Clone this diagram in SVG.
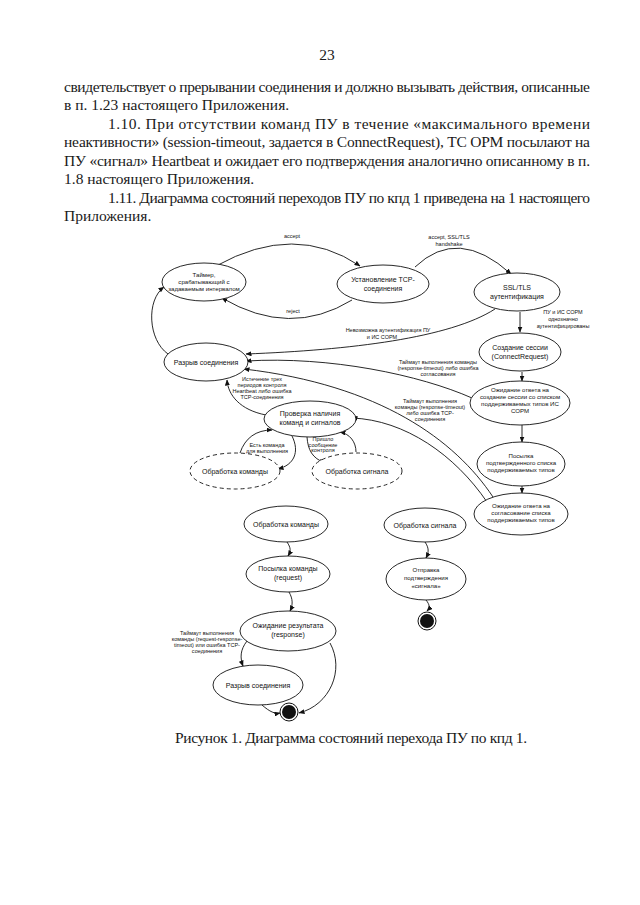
<svg xmlns="http://www.w3.org/2000/svg" width="640" height="905" viewBox="0 0 640 905">
<style>
.pt{font-family:"Liberation Serif","Times New Roman",serif;font-size:15.5px;fill:#1a1a1a}
.nt{font-family:"Liberation Sans",Arial,sans-serif;font-size:7px;fill:#111;text-anchor:middle}
.mt{font-family:"Liberation Sans",Arial,sans-serif;font-size:6.1px;fill:#111;text-anchor:middle}
.lt{font-family:"Liberation Sans",Arial,sans-serif;font-size:5.5px;fill:#111;text-anchor:middle}
.n{fill:#fff;stroke:#111;stroke-width:0.9}
.d{fill:#fff;stroke:#111;stroke-width:0.9;stroke-dasharray:4 3}
.c{fill:none;stroke:#111;stroke-width:0.9;marker-end:url(#ah)}
</style>
<defs>
<marker id="ah" markerWidth="6" markerHeight="5" refX="5.5" refY="2.5" orient="auto" markerUnits="userSpaceOnUse">
<path d="M0,0 L6,2.5 L0,5 z" fill="#111"/>
</marker>
</defs>
<rect width="640" height="905" fill="#fff"/>
<g id="page-text">
<text class="pt" x="327" y="60" text-anchor="middle">23</text>
<text class="pt" x="64" y="92" textLength="526" lengthAdjust="spacing">свидетельствует о прерывании соединения и должно вызывать действия, описанные</text>
<text class="pt" x="64" y="110">в п. 1.23 настоящего Приложения.</text>
<text class="pt" x="108" y="129" textLength="482" lengthAdjust="spacing">1.10. При отсутствии команд ПУ в течение «максимального времени</text>
<text class="pt" x="64" y="147" textLength="526" lengthAdjust="spacing">неактивности» (session-timeout, задается в ConnectRequest), ТС ОРМ посылают на</text>
<text class="pt" x="64" y="166" textLength="526" lengthAdjust="spacing">ПУ «сигнал» Heartbeat и ожидает его подтверждения аналогично описанному в п.</text>
<text class="pt" x="64" y="184">1.8 настоящего Приложения.</text>
<text class="pt" x="108" y="203" textLength="482" lengthAdjust="spacing">1.11.  Диаграмма состояний переходов ПУ по кпд 1 приведена на 1 настоящего</text>
<text class="pt" x="64" y="221">Приложения.</text>
<text class="pt" x="175" y="743" textLength="352" lengthAdjust="spacing">Рисунок 1. Диаграмма состояний перехода ПУ по кпд 1.</text>
</g>
<g id="connectors">
<path class="c" d="M 216 266 Q 295 222 360 266"/>
<text class="lt" x="292" y="238">accept</text>
<path class="c" d="M 352 300 Q 290 338 222 298"/>
<text class="lt" x="293" y="313">reject</text>
<path class="c" d="M 415 267 Q 458 226 511 274"/>
<text class="lt" x="449" y="239">accept, SSL/TLS</text>
<text class="lt" x="449" y="245.5">handshake</text>
<path class="c" d="M 495 309 C 450 338, 350 350, 246 354"/>
<text class="lt" x="388" y="332">Невозможна аутентификация ПУ</text>
<text class="lt" x="382" y="339">и ИС СОРМ</text>
<path class="c" d="M 520 312 L 520 332"/>
<text class="lt" x="563" y="314">ПУ и ИС СОРМ</text>
<text class="lt" x="563" y="321">однозначно</text>
<text class="lt" x="563" y="328">аутентифицированы</text>
<path class="c" d="M 522 372 L 522 381"/>
<path class="c" d="M 472 398 C 420 375, 330 356, 246 361"/>
<text class="lt" x="438" y="364">Таймаут выполнения команды</text>
<text class="lt" x="438" y="370">(response-timeout) либо ошибка</text>
<text class="lt" x="438" y="376">согласования</text>
<path class="c" d="M 522 425 L 522 442"/>
<path class="c" d="M 522 486 L 522 493"/>
<path class="c" d="M 493 497 C 455 440, 380 385, 244 369"/>
<path class="c" d="M 487 502 C 455 455, 405 420, 352 418"/>
<text class="lt" x="430" y="403">Таймаут выполнения</text>
<text class="lt" x="430" y="409">команды (response-timeout)</text>
<text class="lt" x="430" y="415">либо ошибка TCP-</text>
<text class="lt" x="430" y="421">соединения</text>
<path class="c" d="M 266 415 C 240 410, 228 395, 227 380"/>
<text class="lt" x="262" y="381">Истечение трех</text>
<text class="lt" x="262" y="387">периодов контроля</text>
<text class="lt" x="262" y="393">Heartbeat либо ошибка</text>
<text class="lt" x="262" y="399">TCP-соединения</text>
<path class="c" d="M 168 354 C 148 340, 146 300, 164 287"/>
<path class="c" d="M 240 453 C 245 438, 256 430, 272 430"/>
<path class="c" d="M 292 436 C 300 452, 294 465, 278 469"/>
<text class="lt" x="267" y="447">Есть команда</text>
<text class="lt" x="267" y="452.5">для выполнения</text>
<path class="c" d="M 307 437 C 308 450, 312 458, 325 463"/>
<path class="c" d="M 356 452 C 356 442, 350 434, 340 432"/>
<text class="lt" x="323" y="441">Пришло</text>
<text class="lt" x="323" y="446.5">сообщение</text>
<text class="lt" x="323" y="452">контроля</text>
<path class="c" d="M 287 542 C 291 548, 291 551, 288 556"/>
<path class="c" d="M 289 592 C 293 599, 293 605, 290 611"/>
<path class="c" d="M 247 641 C 240 650, 240 658, 243 666"/>
<text class="lt" x="207" y="635">Таймаут выполнения</text>
<text class="lt" x="207" y="641">команды (request-response-</text>
<text class="lt" x="207" y="647">timeout) или ошибка TCP-</text>
<text class="lt" x="207" y="653">соединения</text>
<path class="c" d="M 330 643 C 345 670, 330 705, 299 713"/>
<path class="c" d="M 262 705 C 270 712, 275 714, 280 713"/>
<path class="c" d="M 425 542 C 429 548, 429 552, 426 558"/>
<path class="c" d="M 426 600 C 430 605, 430 608, 427 611"/>
</g>
<g id="n-timer"><ellipse class="n" cx="204" cy="282" rx="42" ry="19"/>
<text class="mt" x="204" y="277">Таймер,</text><text class="mt" x="204" y="284">срабатывающий с</text><text class="mt" x="204" y="291">задаваемым интервалом</text></g>
<g id="n-tcp"><ellipse class="n" cx="383" cy="284" rx="46" ry="19"/>
<text class="nt" x="383" y="282">Установление TCP-</text><text class="nt" x="383" y="291">соединения</text></g>
<g id="n-ssl"><ellipse class="n" cx="517" cy="292" rx="43" ry="19"/>
<text class="nt" x="517" y="290">SSL/TLS</text><text class="nt" x="517" y="299">аутентификация</text></g>
<g id="n-session"><ellipse class="n" cx="520" cy="352" rx="41" ry="19"/>
<text class="nt" x="520" y="350">Создание сессии</text><text class="nt" x="520" y="359">(ConnectRequest)</text></g>
<g id="n-wait1"><ellipse class="n" cx="520" cy="403" rx="50" ry="22"/>
<text class="mt" x="520" y="392">Ожидание ответа на</text><text class="mt" x="520" y="399">создание сессии со списком</text><text class="mt" x="520" y="406">поддерживаемых типов ИС</text><text class="mt" x="520" y="413">СОРМ</text></g>
<g id="n-confirm"><ellipse class="n" cx="521" cy="464" rx="44" ry="22"/>
<text class="mt" x="521" y="458">Посылка</text><text class="mt" x="521" y="465">подтвержденного списка</text><text class="mt" x="521" y="472">поддерживаемых типов</text></g>
<g id="n-wait2"><ellipse class="n" cx="521" cy="514" rx="47" ry="21"/>
<text class="mt" x="521" y="508">Ожидание ответа на</text><text class="mt" x="521" y="515">согласование списка</text><text class="mt" x="521" y="522">поддерживаемых типов</text></g>
<g id="n-break"><ellipse class="n" cx="206" cy="362" rx="42" ry="19"/>
<text class="nt" x="206" y="364.5">Разрыв соединения</text></g>
<g id="n-check"><ellipse class="n" cx="310" cy="419" rx="46" ry="18"/>
<text class="nt" x="310" y="416">Проверка наличия</text><text class="nt" x="310" y="425">команд и сигналов</text></g>
<g id="n-cmd-d"><ellipse class="d" cx="235" cy="471" rx="45" ry="18"/>
<text class="nt" x="235" y="473.5">Обработка команды</text></g>
<g id="n-sig-d"><ellipse class="d" cx="357" cy="471" rx="45" ry="18"/>
<text class="nt" x="357" y="473.5">Обработка сигнала</text></g>
<g id="n-cmd"><ellipse class="n" cx="286" cy="524" rx="42" ry="18"/>
<text class="nt" x="286" y="526.5">Обработка команды</text></g>
<g id="n-sig"><ellipse class="n" cx="425" cy="525" rx="41" ry="17"/>
<text class="nt" x="425" y="527.5">Обработка сигнала</text></g>
<g id="n-request"><ellipse class="n" cx="288" cy="574" rx="42" ry="18"/>
<text class="nt" x="288" y="571">Посылка команды</text><text class="nt" x="288" y="580">(request)</text></g>
<g id="n-ack"><ellipse class="n" cx="426" cy="579" rx="40" ry="21"/>
<text class="mt" x="426" y="572">Отправка</text><text class="mt" x="426" y="580">подтверждения</text><text class="mt" x="426" y="588">«сигнала»</text></g>
<g id="n-end1"><circle cx="427" cy="621" r="9" fill="#fff" stroke="#111" stroke-width="1"/><circle cx="427" cy="621" r="7" fill="#111"/></g>
<g id="n-response"><ellipse class="n" cx="288" cy="631" rx="48" ry="20"/>
<text class="nt" x="288" y="628">Ожидание результата</text><text class="nt" x="288" y="637">(response)</text></g>
<g id="n-break2"><ellipse class="n" cx="258" cy="685" rx="45" ry="20"/>
<text class="nt" x="258" y="687.5">Разрыв соединения</text></g>
<g id="n-end2"><circle cx="289" cy="712" r="9" fill="#fff" stroke="#111" stroke-width="1"/><circle cx="289" cy="712" r="7" fill="#111"/></g>
</svg>
